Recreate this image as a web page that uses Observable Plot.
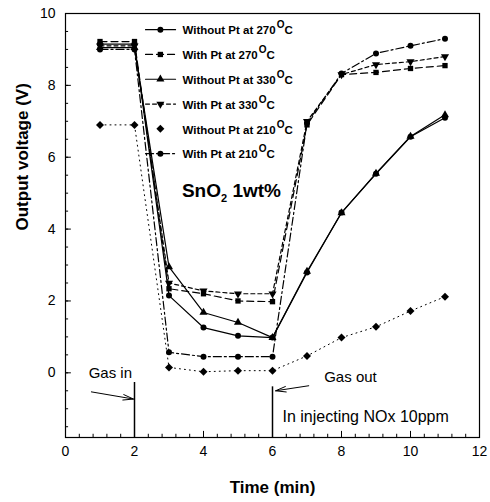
<!DOCTYPE html>
<html>
<head>
<meta charset="utf-8">
<script src="https://cdn.jsdelivr.net/npm/d3@7"></script>
<script src="https://cdn.jsdelivr.net/npm/@observablehq/plot@0.6"></script>
<style>
  html, body { margin: 0; padding: 0; background: white; }
  #chart svg { display: block; }
</style>
</head>
<body>
<div id="chart"></div>
<script>
// ---- data ----
const times = [1, 2, 3, 4, 5, 6, 7, 8, 9, 10, 11];
const seriesNames = ["Without Pt at 270", "With Pt at 270", "Without Pt at 330", "With Pt at 330", "Without Pt at 210", "With Pt at 210"];
const withoutPt270 = [9.15, 9.15, 2.15, 1.26, 1.03, 0.98, 2.79, 4.46, 5.54, 6.57, 7.10];
const withPt270    = [9.22, 9.22, 2.34, 2.20, 2.00, 1.98, 6.90, 8.30, 8.36, 8.47, 8.55];
const withoutPt330 = [9.05, 9.05, 2.95, 1.68, 1.40, 0.98, 2.82, 4.45, 5.55, 6.58, 7.18];
const withPt330    = [9.10, 9.10, 2.50, 2.28, 2.20, 2.20, 7.00, 8.30, 8.58, 8.66, 8.80];
const withoutPt210 = [6.90, 6.90, 0.15, 0.03, 0.06, 0.06, 0.47, 0.98, 1.28, 1.72, 2.12];
const withPt210    = [9.00, 9.00, 0.57, 0.45, 0.45, 0.45, 6.95, 8.33, 8.89, 9.10, 9.30];
const seriesValues = [withoutPt270, withPt270, withoutPt330, withPt330, withoutPt210, withPt210];

const xTicks = [0, 2, 4, 6, 8, 10, 12];
const yTicks = [0, 2, 4, 6, 8, 10];
const xTitle = "Time (min)";
const yTitle = "Output voltage (V)";
const materialLabel = "SnO2 1wt%";
const gasInLabel = "Gas in";
const gasOutLabel = "Gas out";
const noteLabel = "In injecting NOx 10ppm";

// ---- styles (not data) ----
const styles = [
  {dash: null, symbol: "circle", rotate: 0, line: true},
  {dash: "7,4", symbol: "square", rotate: 0, line: true},
  {dash: null, symbol: "triangle", rotate: 0, line: true},
  {dash: "4,3", symbol: "triangle", rotate: 180, line: true},
  {dash: "1,4", symbol: "diamond2", rotate: 0, line: false},
  {dash: "8,3,2,3", symbol: "circle", rotate: 0, line: true}
];

const rows = seriesNames.flatMap((name, i) =>
  times.map((t, j) => ({series: name, idx: i, t, v: seriesValues[i][j]})));

const yMin = -1.8, yMax = 10, xMin = 0, xMax = 12;
const xMinor = d3.range(0, 12.001, 0.4).map(d => +d.toFixed(2));
const yMinor = d3.range(-1.5, 10.001, 0.5);

// legend layout
const legendRows = seriesNames.map((name, i) => ({name, i, y: 9.55 - i * 0.69}));

const marks = [
  Plot.frame({stroke: "black", strokeWidth: 1.2}),
  Plot.axisX({ticks: xTicks, tickSize: 0, tickPadding: 9, fontSize: 14, label: null}),
  Plot.axisY({ticks: yTicks, tickSize: 0, tickPadding: 10, fontSize: 14, label: null}),
  // inward ticks
  Plot.ruleX(xTicks, {x: d => d, y1: yMin, y2: yMin + 0.17, stroke: "black", strokeWidth: 1}),
  Plot.ruleX(xMinor, {x: d => d, y1: yMin, y2: yMin + 0.09, stroke: "black", strokeWidth: 1}),
  Plot.ruleY(yTicks, {y: d => d, x1: xMin, x2: xMin + 0.17, stroke: "black", strokeWidth: 1}),
  Plot.ruleY(yMinor, {y: d => d, x1: xMin, x2: xMin + 0.09, stroke: "black", strokeWidth: 1}),
  // axis titles
  Plot.text([xTitle], {text: d => d, frameAnchor: "bottom", dy: 55, fontSize: 17, fontWeight: "bold"}),
  Plot.text([yTitle], {text: d => d, frameAnchor: "left", dx: -43, dy: 5, rotate: -90, fontSize: 17, fontWeight: "bold"})
];

// series lines + dots
seriesNames.forEach((name, i) => {
  const s = styles[i];
  const data = rows.filter(d => d.idx === i);
  marks.push(Plot.line(data, {x: "t", y: "v", stroke: "black", strokeWidth: s.dash === "1,4" ? 1 : 1.2, strokeDasharray: s.dash}));
  marks.push(Plot.dot(data, {x: "t", y: "v", symbol: s.symbol, rotate: s.rotate, fill: "black", stroke: "none", r: s.symbol === "diamond2" ? 3.6 : 3}));
});

// legend
legendRows.forEach(row => {
  const s = styles[row.i];
  if (s.line) {
    marks.push(Plot.line([{x: 2.32, y: row.y}, {x: 3.19, y: row.y}], {x: "x", y: "y", stroke: "black", strokeWidth: 1.2, strokeDasharray: s.dash}));
  }
  marks.push(Plot.dot([row], {x: () => 2.75, y: "y", symbol: s.symbol, rotate: s.rotate, fill: "black", stroke: "none", r: s.symbol === "diamond2" ? 3.6 : 3}));
});
marks.push(Plot.text(legendRows, {x: () => 3.39, y: "y", text: "name", textAnchor: "start", fontSize: 11.5, fontWeight: "bold", dy: 1}));

// annotations
marks.push(Plot.text([materialLabel], {x: () => 4.81, y: () => 5.07, text: d => d, fontSize: 19, fontWeight: "bold"}));
marks.push(Plot.text([gasInLabel], {x: () => 1.3, y: () => 0.0, text: d => d, fontSize: 15}));
marks.push(Plot.text([gasOutLabel], {x: () => 8.26, y: () => -0.11, text: d => d, fontSize: 15}));
marks.push(Plot.text([noteLabel], {x: () => 6.29, y: () => -1.23, text: d => d, fontSize: 16, textAnchor: "start"}));
marks.push(Plot.ruleX([2], {x: d => d, y1: -0.27, y2: yMin, stroke: "black", strokeWidth: 1.5}));
marks.push(Plot.ruleX([6], {x: d => d, y1: -0.39, y2: yMin, stroke: "black", strokeWidth: 1.5}));
marks.push(Plot.arrow([{x1: 0.75, y1: -0.53, x2: 1.97, y2: -0.73}], {x1: "x1", y1: "y1", x2: "x2", y2: "y2", stroke: "black", strokeWidth: 1, headLength: 16, headAngle: 30}));
marks.push(Plot.arrow([{x1: 7.05, y1: -0.36, x2: 6.09, y2: -0.50}], {x1: "x1", y1: "y1", x2: "x2", y2: "y2", stroke: "black", strokeWidth: 1, headLength: 16, headAngle: 30}));

const chart = Plot.plot({
  width: 490,
  height: 502,
  marginLeft: 65,
  marginRight: 11,
  marginTop: 13,
  marginBottom: 65,
  x: {domain: [xMin, xMax]},
  y: {domain: [yMin, yMax]},
  style: {fontFamily: "'Liberation Sans', Arial, sans-serif", background: "white", color: "black"},
  marks
});

// rich text: superscript degree "O" and subscript 2
d3.select(chart).selectAll("text").each(function () {
  const t = this.textContent;
  if (seriesNames.includes(t)) {
    const sel = d3.select(this);
    sel.append("tspan").attr("font-size", 10).attr("dy", -6).attr("dx", 1).text("O");
    sel.append("tspan").attr("font-size", 11.5).attr("dy", 6).text("C");
  } else if (t === materialLabel) {
    const sel = d3.select(this);
    sel.text("");
    sel.append("tspan").text("SnO");
    sel.append("tspan").attr("font-size", 11).attr("dy", 5).text("2");
    sel.append("tspan").attr("dy", -5).text(" 1wt%");
  }
});

document.getElementById("chart").appendChild(chart);
</script>
</body>
</html>
